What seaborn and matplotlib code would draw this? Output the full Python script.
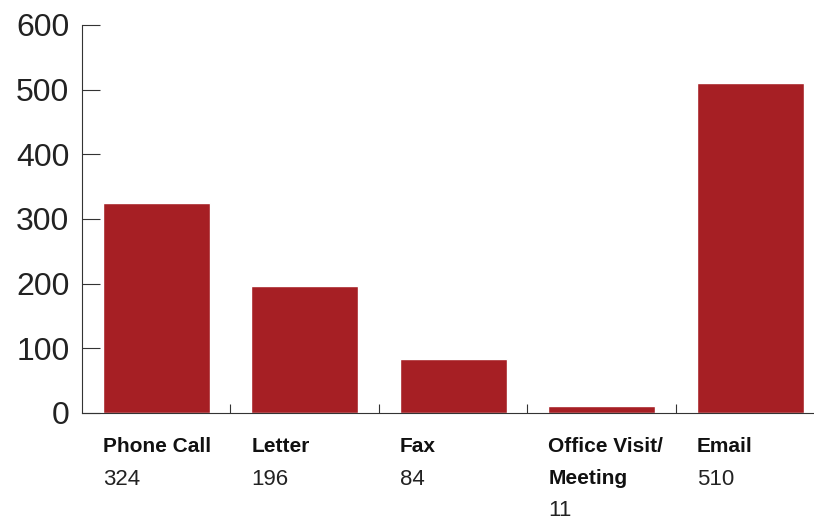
import matplotlib
matplotlib.use("Agg")
import matplotlib.pyplot as plt
import seaborn as sns
import pandas as pd

# chart data
categories = ["Phone Call", "Letter", "Fax", "Office Visit/\nMeeting", "Email"]
counts = [324, 196, 84, 11, 510]
yticks = [0, 100, 200, 300, 400, 500, 600]

bar_color = "#A61F24"
bar_width = 0.72

sns.set_style("white")
plt.rcParams["font.family"] = ["Liberation Sans", "DejaVu Sans"]

df = pd.DataFrame({"category": categories, "count": counts})

fig = plt.figure(figsize=(8.14, 5.2), dpi=100)
ax = fig.add_axes([0.1007, 0.2058, 0.8993, 0.7462])

sns.barplot(data=df, x="category", y="count", color=bar_color,
            saturation=1, width=bar_width, ax=ax)

ax.set_ylim(0, 600)
ax.set_xlim(-0.5, 4.43)
ax.set_yticks(yticks)
ax.set_yticklabels([str(t) for t in yticks], fontsize=23, color="#222222")
ax.set_xlabel("")
ax.set_ylabel("")

# x ticks sit at the boundaries between categories
ax.set_xticks([0.5, 1.5, 2.5, 3.5])
ax.set_xticklabels([])
ax.tick_params(axis="x", bottom=True, direction="in", length=6.5, width=0.8,
               color="#333333")
ax.tick_params(axis="y", left=True, direction="in", length=13, width=0.8,
               color="#333333", pad=9)

for side in ["top", "right"]:
    ax.spines[side].set_visible(False)
for side in ["left", "bottom"]:
    ax.spines[side].set_color("#333333")
    ax.spines[side].set_linewidth(0.8)

# category names (bold) with the count under them, one row per line
for i, (name, val) in enumerate(zip(categories, counts)):
    x_left = i - bar_width / 2
    rows = name.split("\n")
    for k, row in enumerate(rows):
        ax.annotate(row, xy=(x_left, 0), xycoords=("data", "axes fraction"),
                    xytext=(0, -17 - 23 * k), textcoords="offset points",
                    ha="left", va="top", fontsize=15, fontweight="bold",
                    color="#111111")
    ax.annotate(str(val), xy=(x_left, 0), xycoords=("data", "axes fraction"),
                xytext=(0, -17 - 23 * len(rows)), textcoords="offset points",
                ha="left", va="top", fontsize=16, color="#222222")

fig.savefig("out.png", dpi=100)
